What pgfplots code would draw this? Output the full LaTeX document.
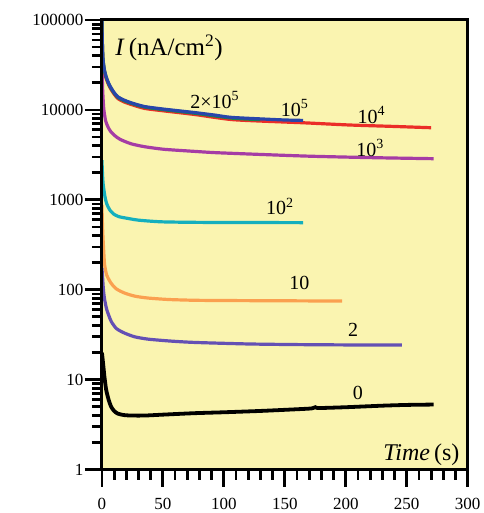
\documentclass[border=0pt]{standalone}
\usepackage{fontspec}
\setmainfont{Liberation Serif}
\usepackage{pgfplots}
\pgfplotsset{compat=1.18}
\definecolor{bgyellow}{RGB}{250,244,176}
\definecolor{cblue}{RGB}{40,70,170}
\definecolor{cred}{RGB}{235,45,40}
\definecolor{cgreen}{RGB}{20,140,60}
\definecolor{cmag}{RGB}{165,60,165}
\definecolor{ccyan}{RGB}{20,175,190}
\definecolor{corange}{RGB}{250,160,80}
\definecolor{cpurple}{RGB}{100,80,180}
\begin{document}
\begin{tikzpicture}
\begin{axis}[
    scale only axis,
    width=366pt, height=450pt,
    ymode=log, log basis y=10,
    xmin=0, xmax=300, ymin=1, ymax=100000,
    xtick={0,50,...,300}, minor x tick num=4,
    ytick={1,10,100,1000,10000,100000},
    yticklabels={1,10,100,1000,10000,100000},
    minor ytick={2,3,4,5,6,7,8,9,20,30,40,50,60,70,80,90,
      200,300,400,500,600,700,800,900,2000,3000,4000,5000,6000,7000,8000,9000,
      20000,30000,40000,50000,60000,70000,80000,90000},
    xtick pos=left, ytick pos=left,
    xtick align=outside, ytick align=outside,
    major tick length=17pt, minor tick length=10pt,
    every major tick/.append style={black, line width=2.8pt},
    every minor tick/.append style={black, line width=2.8pt},
    axis on top,
    axis line style={black, line width=3pt},
    axis background/.style={fill=bgyellow},
    tick label style={font=\fontsize{17}{20}\selectfont},
    xticklabel style={yshift=-8pt},
    yticklabel style={xshift=2pt},
    /pgf/number format/assume math mode=true,
]
% 10^3
\addplot[cmag, line width=3.2pt, smooth, tension=0.4] coordinates {
 (0,32000)(0.5,18000)(1,13000)(1.6,10000)(3,7600)(4.9,6500)(7,5800)(10.4,5200)
 (15,4700)(24,4200)(35,3900)(51,3650)(76,3460)(93,3350)(130,3200)(170,3060)
 (220,2950)(272,2870)
};
% 10^2
\addplot[ccyan, line width=3.2pt, smooth, tension=0.4] coordinates {
 (0,2770)(0.5,1900)(1,1500)(2.5,1080)(4,900)(6.5,770)(10,690)(14,650)(19,630)
 (30,595)(49,570)(80,562)(120,560)(165,558)
};
% 10
\addplot[corange, line width=3.2pt, smooth, tension=0.4] coordinates {
 (0,880)(0.4,550)(0.8,400)(1.4,280)(2.2,190)(4,145)(7.6,118)(12,102)(18.6,92)
 (27,85)(37.7,81)(55,78)(76,76.5)(100,76)(150,75.5)(197,75)
};
% 2
\addplot[cpurple, line width=3.2pt, smooth, tension=0.4] coordinates {
 (0,175)(0.5,140)(1,110)(1.5,92)(2.2,78)(4,60)(7.6,44.6)(12,37)(18.6,33)
 (27,30)(37.7,28.3)(55,27)(76,26)(120,25)(160,24.6)(200,24.4)(246,24.3)
};
% 0
\addplot[black, line width=3.8pt, smooth, tension=0.4] coordinates {
 (0,20)(1,15)(2,11)(3.5,7.7)(5.5,6)(7.6,5.0)(10,4.5)(13,4.2)(18,4.05)(24,4.0)
 (35,4.0)(51,4.1)(76,4.25)(100,4.35)(130,4.5)(160,4.7)(172,4.8)(175,4.95)
 (178,4.85)(200,4.95)(230,5.15)(250,5.25)(272,5.3)
};
% 10^4
\addplot[cred, line width=3.2pt, smooth, tension=0.4] coordinates {
 (0,95000)(0.3,57000)(0.8,36000)(2,26800)(3.5,22300)(5.5,19000)(7.6,16800)
 (10,15000)(13,13400)(18,12300)(24,11500)(35,10400)(51,9750)(76,8900)
 (107,7800)(148,7350)(165,7200)(203,6800)(240,6550)(270,6340)
};
% 2x10^5
\addplot[cgreen, line width=3.2pt, smooth, tension=0.4] coordinates {
 (0,98000)(0.3,59000)(0.8,37400)(2,27600)(3.5,23000)(5.5,19550)(7.6,17250)
 (10,15400)(13,13800)(18,12700)(24,11850)(35,10750)(51,10050)(76,9200)
 (107,8100)(130,7800)
};
% 10^5
\addplot[cblue, line width=3.2pt, smooth, tension=0.4] coordinates {
 (0,100000)(0.3,60000)(0.8,38000)(2,28000)(3.5,23300)(5.5,19800)(7.6,17500)
 (10,15600)(13,14000)(18,12900)(24,12000)(35,10900)(51,10200)(76,9350)
 (93,8750)(107,8250)(148,7750)(165,7650)
};
\node at (axis cs:55,48800) {\fontsize{25}{27}\selectfont\textit{I}\,(nA/cm\textsuperscript{2})};
\node at (axis cs:92.6,12900) {\fontsize{20}{22}\selectfont 2×10\textsuperscript{5}};
\node at (axis cs:158,10500) {\fontsize{20}{22}\selectfont 10\textsuperscript{5}};
\node at (axis cs:221,8800) {\fontsize{20}{22}\selectfont 10\textsuperscript{4}};
\node at (axis cs:220,3780) {\fontsize{20}{22}\selectfont 10\textsuperscript{3}};
\node at (axis cs:146,840) {\fontsize{20}{22}\selectfont 10\textsuperscript{2}};
\node at (axis cs:162,120) {\fontsize{20}{22}\selectfont 10};
\node at (axis cs:206,36) {\fontsize{20}{22}\selectfont 2};
\node at (axis cs:210,7.2) {\fontsize{20}{22}\selectfont 0};
\node at (axis cs:262,1.47) {\fontsize{24}{26}\selectfont\textit{Time}\,(s)};
\end{axis}
\path ([xshift=-102pt,yshift=-43pt]current axis.south west) rectangle ([xshift=16pt,yshift=20pt]current axis.north east);
\end{tikzpicture}
\end{document}
